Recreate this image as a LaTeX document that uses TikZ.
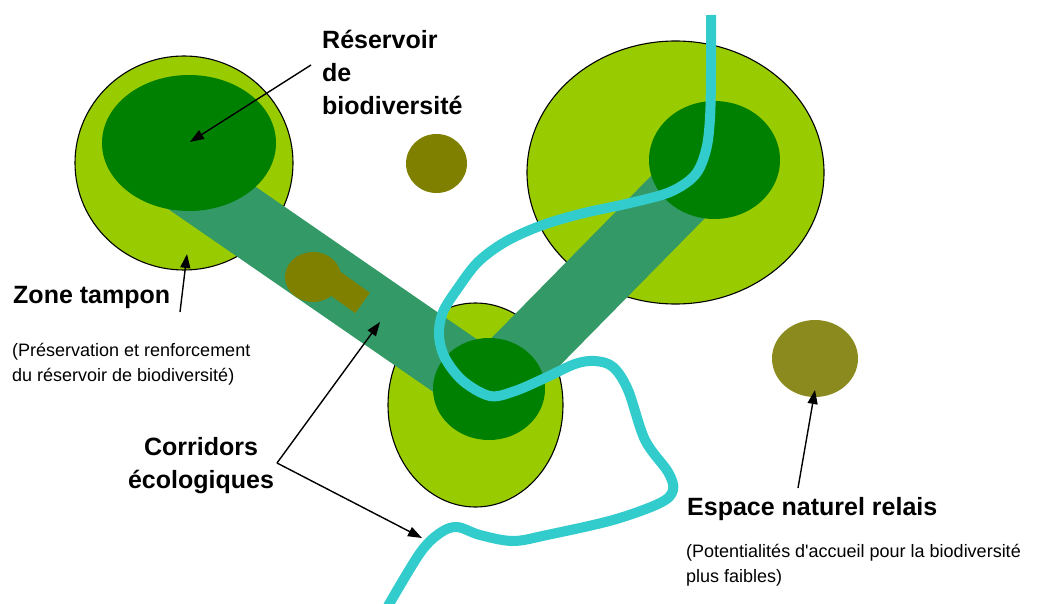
\documentclass[tikz,border=0pt]{standalone}
\usepackage{fontspec}
\setmainfont{Liberation Sans}
\usetikzlibrary{arrows.meta}
\definecolor{tampon}{HTML}{99CC00}
\definecolor{reserv}{HTML}{008000}
\definecolor{corrid}{HTML}{339966}
\definecolor{riviere}{HTML}{33CCCC}
\definecolor{olivec}{HTML}{808000}
\definecolor{relaisc}{RGB}{138,138,30}
\begin{document}
\begin{tikzpicture}[x=1pt,y=-1pt,
  zone/.style={fill=tampon, draw=black, line width=1.1pt},
  coeur/.style={fill=reserv},
  couloir/.style={draw=corrid, line width=68pt, line cap=butt},
  eau/.style={draw=riviere, line width=10pt, line cap=butt, line join=round},
  lbl/.style={font=\fontsize{25}{33}\selectfont\bfseries, inner sep=0pt},
  note/.style={font=\fontsize{18}{25}\selectfont, inner sep=0pt, align=left},
  ptr/.style={draw=black, line width=1.4pt, -{Triangle[length=14pt,width=10pt]}}]
\useasboundingbox (0,0) rectangle (1038,604);
% buffer zones
\path[zone] (184,163) ellipse [x radius=109, y radius=107];
\path[zone] (675.5,172.5) ellipse [x radius=148.5, y radius=131.5];
\path[zone] (475.5,405) ellipse [x radius=87.5, y radius=102];
% corridors
\coordinate (ca) at (170,169);
\coordinate (cb) at (489,389);
\coordinate (cc) at (714.5,160);
\draw[couloir] (ca) -- (cb);
\draw[couloir] (cb) -- (cc);
% reservoirs
\path[coeur] (189,143) ellipse [x radius=87, y radius=68];
\path[coeur] (714.5,160) ellipse [x radius=65.5, y radius=59];
\path[coeur] (489,389) ellipse [x radius=56, y radius=51];
% olive blob on corridor
\fill[olivec] (313,277) ellipse [x radius=28, y radius=25];
\draw[olivec, line width=25pt, line cap=butt] (318,271) -- (362.5,303);
% river
\draw[eau] plot[smooth, tension=0.55] coordinates {
 (711,15) (711,70) (710,118) (706,150) (695,175) (670,192) (630,203) (580,214)
 (540,226) (505,242) (478,262) (458,288) (443,312) (439,335) (445,358)
 (463,381) (490,396) (515,391) (545,378) (575,364) (595,361) (613,367)
 (628,390) (645,440) (668,472) (673,490) (660,503) (613,520) (547,535)
 (513,541) (480,535) (457,527) (440,533) (420,553) (388,606)};
% relay spaces
\fill[olivec] (436.5,163.5) ellipse [x radius=30.5, y radius=29.5];
\fill[relaisc] (815,358.5) ellipse [x radius=43, y radius=38.5];
% labels (base anchor of a multi-line node = last line)
\node[lbl, anchor=base west, align=left] (res) at (322,115) {Réservoir\\de\\biodiversité};
\node[lbl, anchor=base west] (zt) at (13,303) {Zone tampon};
\node[note, anchor=base west] (ztn) at (12,381) {(Préservation et renforcement\\du réservoir de biodiversité)};
\node[lbl, anchor=base, align=center] (cor) at (201,488) {Corridors\\écologiques};
\node[lbl, anchor=base west] (enr) at (687,515) {Espace naturel relais};
\node[note, anchor=base west] (enrn) at (686,582) {(Potentialités d\textquotesingle accueil pour la biodiversité\\plus faibles)};
% arrows
\coordinate (r0) at (311,65);
\coordinate (r1) at (190,142);
\draw[ptr] (r0) -- (r1);
\coordinate (z0) at (180,312);
\coordinate (z1) at (187,254);
\draw[ptr] (z0) -- (z1);
\coordinate (cv) at (277,463);
\coordinate (c1) at (380,322);
\coordinate (c2) at (422,538);
\draw[ptr] (cv) -- (c1);
\draw[ptr] (cv) -- (c2);
\coordinate (e0) at (798,488);
\coordinate (e1) at (815,390);
\draw[ptr] (e0) -- (e1);
\end{tikzpicture}
\end{document}
